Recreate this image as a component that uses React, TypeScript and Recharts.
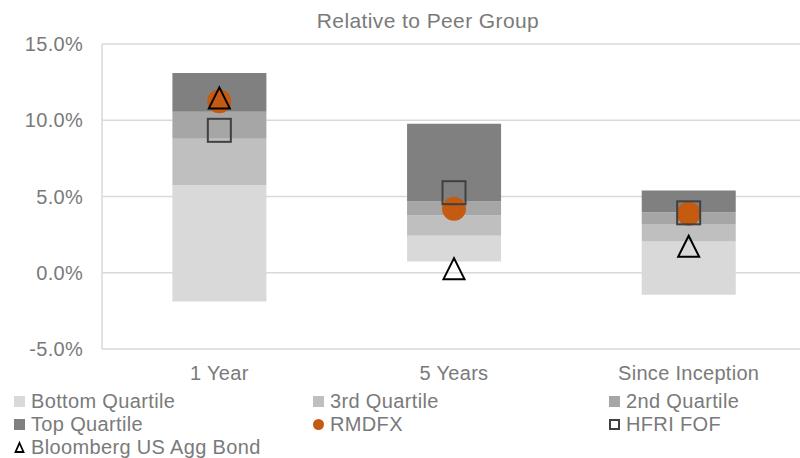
import React from "react";
import {
  ComposedChart,
  Bar,
  Scatter,
  XAxis,
  YAxis,
  CartesianGrid,
  Legend,
} from "recharts";

// values (percent)
const categories = ["1 Year", "5 Years", "Since Inception"];
const lowEnd = [-1.88, 0.74, -1.44];
const bottomQuartileTop = [5.73, 2.43, 2.05];
const thirdQuartileTop = [8.79, 3.76, 3.19];
const secondQuartileTop = [10.56, 4.68, 3.96];
const topQuartileTop = [13.1, 9.77, 5.4];
const rmdfx = [11.24, 4.2, 3.87];
const hfriFof = [9.34, 5.25, 3.93];
const aggBond = [11.5, 0.3, 1.77];
const yTicks = [-5, 0, 5, 10, 15];

const FONT = "'Liberation Sans', Arial, sans-serif";
const TEXT = "#7a7a7a";

const data = categories.map((name, i) => ({
  name,
  base: lowEnd[i],
  bottom: bottomQuartileTop[i] - lowEnd[i],
  third: thirdQuartileTop[i] - bottomQuartileTop[i],
  second: secondQuartileTop[i] - thirdQuartileTop[i],
  top: topQuartileTop[i] - secondQuartileTop[i],
  rmdfx: rmdfx[i],
  hfri: hfriFof[i],
  agg: aggBond[i],
}));

const CircleShape = (p: any) => (
  <circle cx={p.cx} cy={p.cy} r={12} fill="#c55a11" />
);
const SquareShape = (p: any) => (
  <rect x={p.cx - 11.5} y={p.cy - 11.5} width={23} height={23} fill="none" stroke="#404040" strokeWidth={2} />
);
const TriangleShape = (p: any) => (
  <path
    d={`M${p.cx},${p.cy - 10} L${p.cx + 10.5},${p.cy + 11} L${p.cx - 10.5},${p.cy + 11} Z`}
    fill="none"
    stroke="#000"
    strokeWidth={2}
  />
);

const legendItems = [
  { label: "Bottom Quartile", kind: "box", color: "#d9d9d9" },
  { label: "3rd Quartile", kind: "box", color: "#bfbfbf" },
  { label: "2nd Quartile", kind: "box", color: "#a6a6a6" },
  { label: "Top Quartile", kind: "box", color: "#808080" },
  { label: "RMDFX", kind: "circle", color: "#c55a11" },
  { label: "HFRI FOF", kind: "square", color: "#404040" },
  { label: "Bloomberg US Agg Bond", kind: "triangle", color: "#000" },
];
const colX = [14, 313, 609];

const LegendContent = () => (
  <svg width={800} height={70} style={{ display: "block" }}>
    {legendItems.map((it, i) => {
      const x = colX[i % 3];
      const y = 13 + Math.floor(i / 3) * 23;
      let mark;
      if (it.kind === "box") mark = <rect x={x} y={y - 5} width={11} height={11} fill={it.color} />;
      else if (it.kind === "circle") mark = <circle cx={x + 5.5} cy={y + 0.5} r={5.5} fill={it.color} />;
      else if (it.kind === "square")
        mark = <rect x={x + 1} y={y - 4} width={9} height={9} fill="none" stroke={it.color} strokeWidth={2} />;
      else
        mark = <path d={`M${x + 5.5},${y - 4} L${x + 9.5},${y + 5} L${x + 1.5},${y + 5} Z`} fill="none" stroke="#000" strokeWidth={1.8} />;
      return (
        <g key={it.label}>
          {mark}
          <text x={x + 17} y={y + 7} fontSize={20} letterSpacing={0.35} fill={TEXT} fontFamily={FONT}>
            {it.label}
          </text>
        </g>
      );
    })}
  </svg>
);

export default function App() {
  return (
    <div style={{ position: "absolute", left: 0, top: 0, width: 800, height: 458, overflow: "hidden", background: "#fff" }}>
      <div
        style={{
          position: "absolute",
          top: 9,
          left: 0,
          width: 856,
          textAlign: "center",
          fontFamily: FONT,
          fontSize: 21,
          letterSpacing: 0.4,
          color: TEXT,
        }}
      >
        Relative to Peer Group
      </div>
      <ComposedChart
        width={806}
        height={458}
        data={data}
        margin={{ top: 44, right: 0, bottom: 0, left: 0 }}
        barCategoryGap="30%"
      >
        <CartesianGrid vertical={false} stroke="#d9d9d9" strokeWidth={1.5} />
        <XAxis
          dataKey="name"
          axisLine={false}
          tickLine={false}
          tickSize={0}
          tickMargin={17}
          height={39}
          tick={{ fontSize: 20, fill: TEXT, fontFamily: FONT, letterSpacing: 0.3 }}
        />
        <YAxis
          domain={[-5, 15]}
          ticks={yTicks}
          width={102}
          axisLine={{ stroke: "#d9d9d9", strokeWidth: 1.5 }}
          tickLine={false}
          tickSize={0}
          tickMargin={19}
          tickFormatter={(v: number) => `${v.toFixed(1)}%`}
          tick={{ fontSize: 20, fill: TEXT, fontFamily: FONT, letterSpacing: 0.3 }}
        />
        <Legend verticalAlign="bottom" content={<LegendContent />} />
        <Bar dataKey="base" stackId="q" fill="transparent" isAnimationActive={false} legendType="none" />
        <Bar dataKey="bottom" stackId="q" fill="#d9d9d9" isAnimationActive={false} />
        <Bar dataKey="third" stackId="q" fill="#bfbfbf" isAnimationActive={false} />
        <Bar dataKey="second" stackId="q" fill="#a6a6a6" isAnimationActive={false} />
        <Bar dataKey="top" stackId="q" fill="#808080" isAnimationActive={false} />
        <Scatter dataKey="rmdfx" shape={CircleShape} isAnimationActive={false} />
        <Scatter dataKey="hfri" shape={SquareShape} isAnimationActive={false} />
        <Scatter dataKey="agg" shape={TriangleShape} isAnimationActive={false} />
      </ComposedChart>
    </div>
  );
}
